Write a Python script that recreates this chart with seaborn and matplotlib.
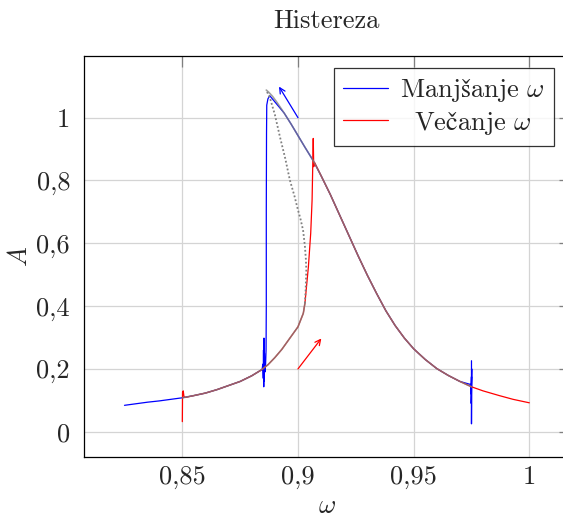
import numpy as np
import pandas as pd
import matplotlib
matplotlib.use("Agg")
import matplotlib.pyplot as plt
import seaborn as sns

# stable lower branch (omega, A)
lower_w = [0.825, 0.830, 0.835, 0.840, 0.845, 0.850, 0.855, 0.860, 0.865, 0.870,
           0.875, 0.880, 0.884, 0.887, 0.890, 0.893, 0.8965, 0.900, 0.9023, 0.903]
lower_a = [0.084, 0.089, 0.094, 0.098, 0.103, 0.108, 0.115, 0.123, 0.134, 0.147,
           0.160, 0.178, 0.196, 0.213, 0.236, 0.262, 0.298, 0.334, 0.377, 0.409]

# stable upper branch
upper_w = [0.8863, 0.8875, 0.889, 0.891, 0.894, 0.897, 0.900, 0.903, 0.9066, 0.910,
           0.914, 0.918, 0.922, 0.926, 0.930, 0.934, 0.938, 0.942, 0.946, 0.950,
           0.955, 0.960, 0.965, 0.970, 0.975]
upper_a = [1.088, 1.080, 1.068, 1.048, 1.015, 0.980, 0.943, 0.906, 0.863, 0.815,
           0.755, 0.690, 0.625, 0.560, 0.498, 0.440, 0.385, 0.338, 0.298, 0.264,
           0.230, 0.201, 0.179, 0.160, 0.143]

tail_w = [0.980, 0.987, 0.993, 1.000]
tail_a = [0.130, 0.115, 0.103, 0.092]

# unstable branch (dotted)
unst_w = [0.903, 0.9033, 0.9036, 0.9034, 0.9030, 0.9022, 0.9010, 0.9000, 0.8985,
          0.8965, 0.8945, 0.8922, 0.8900, 0.8880, 0.8863]
unst_a = [0.409, 0.450, 0.515, 0.550, 0.590, 0.642, 0.680, 0.706, 0.750,
          0.801, 0.870, 0.939, 1.010, 1.060, 1.088]

# transients of the sweeps
blue_start_w = [0.9750, 0.9750, 0.9751, 0.9749, 0.9750, 0.9749, 0.9748]
blue_start_a = [0.226, 0.025, 0.200, 0.090, 0.175, 0.120, 0.150]
blue_drop_w = [0.8878, 0.8870, 0.8865, 0.8864, 0.8863, 0.8863, 0.8862, 0.8860, 0.8857,
               0.8855, 0.8854, 0.8853, 0.8852, 0.8851, 0.8850, 0.8848, 0.8845]
blue_drop_a = [1.070, 1.060, 1.040, 0.950, 0.700, 0.400, 0.260, 0.215, 0.190,
               0.250, 0.160, 0.298, 0.143, 0.260, 0.170, 0.215, 0.198]
red_start_w = [0.8500, 0.8501, 0.8504, 0.8507, 0.8512]
red_start_a = [0.032, 0.125, 0.130, 0.112, 0.109]
red_jump_w = [0.9045, 0.9055, 0.9061, 0.9066, 0.9068, 0.9072]
red_jump_a = [0.525, 0.632, 0.738, 0.934, 0.844, 0.857]

# arrows (from, to)
arrow_down = [(0.9, 1.0), (0.8918, 1.099)]
arrow_up = [(0.9, 0.2), (0.9101, 0.297)]

xticks = [0.85, 0.9, 0.95, 1.0]
xtick_labels = ["0,85", "0,9", "0,95", "1"]
yticks = [0, 0.2, 0.4, 0.6, 0.8, 1.0]
ytick_labels = ["0", "0,2", "0,4", "0,6", "0,8", "1"]
labels = [r"$\mathrm{Manjšanje}$ $\omega$", r"$\mathrm{Večanje}$ $\omega$"]

# decreasing omega sweep
bw = blue_start_w + upper_w[::-1][1:-4] + blue_drop_w + [w for w in lower_w[::-1] if w < 0.8845]
ba = blue_start_a + upper_a[::-1][1:-4] + blue_drop_a + [a for w, a in zip(lower_w[::-1], lower_a[::-1]) if w < 0.8845]
blue = pd.DataFrame({"w": bw, "A": ba})

# increasing omega sweep
rw = red_start_w + [w for w in lower_w if w > 0.8512] + red_jump_w + [w for w in upper_w if w > 0.9072] + tail_w
ra = red_start_a + [a for w, a in zip(lower_w, lower_a) if w > 0.8512] + red_jump_a + [a for w, a in zip(upper_w, upper_a) if w > 0.9072] + tail_a
red = pd.DataFrame({"w": rw, "A": ra})

g_low = pd.DataFrame({"w": [w for w in lower_w if w >= 0.85], "A": [a for w, a in zip(lower_w, lower_a) if w >= 0.85]})
g_uns = pd.DataFrame({"w": unst_w, "A": unst_a})
g_up = pd.DataFrame({"w": upper_w, "A": upper_a})

sns.set_style("white")
plt.rcParams['font.family'] = ['cmr10', 'DejaVu Serif']
plt.rcParams['mathtext.fontset'] = 'cm'
plt.rcParams['axes.formatter.use_mathtext'] = True

fig = plt.figure(figsize=(5.63, 5.19), dpi=100)
ax = fig.add_axes([84/563, 62/519, 485.8/563, 401/519])

fs = 19
sns.lineplot(data=blue, x="w", y="A", sort=False, estimator=None, color="blue", lw=0.9,
             label=labels[0], ax=ax)
sns.lineplot(data=red, x="w", y="A", sort=False, estimator=None, color="red", lw=0.9,
             label=labels[1], ax=ax)
sns.lineplot(data=g_low, x="w", y="A", sort=False, estimator=None, color="gray", lw=1.2, alpha=0.75, ax=ax)
sns.lineplot(data=g_up, x="w", y="A", sort=False, estimator=None, color="gray", lw=1.2, alpha=0.75, ax=ax)
sns.lineplot(data=g_uns, x="w", y="A", sort=False, estimator=None, color="gray", lw=1.3,
             linestyle=(0, (1, 1.2)), ax=ax)

ax.annotate("", xy=arrow_down[1], xytext=arrow_down[0],
            arrowprops=dict(arrowstyle="->", color="blue", lw=0.9, shrinkA=0, shrinkB=0))
ax.annotate("", xy=arrow_up[1], xytext=arrow_up[0],
            arrowprops=dict(arrowstyle="->", color="red", lw=0.9, shrinkA=0, shrinkB=0))

ax.set_xlim(0.8075, 1.0175)
ax.set_ylim(-0.0806, 1.1965)
ax.set_xticks(xticks, xtick_labels)
ax.set_yticks(yticks, ytick_labels)
ax.grid(True, color="#d4d4d4", lw=0.9)
ax.tick_params(direction="in", length=8, width=0.9, color="#7f7f7f",
               top=True, right=True, labelsize=fs)
ax.tick_params(axis="x", pad=6)
ax.tick_params(axis="y", pad=10)
for s in ax.spines.values():
    s.set_color("black")
    s.set_linewidth(0.9)

ax.set_xlabel(r"$\omega$", fontsize=fs, labelpad=4)
ax.set_ylabel(r"$A$", fontsize=fs, labelpad=3)
ax.set_title("Histereza", fontsize=fs, pad=20)

leg = ax.legend(loc="upper right", bbox_to_anchor=(0.9675, 0.970), borderaxespad=0,
                fontsize=fs, frameon=True, fancybox=False, edgecolor="black",
                handlelength=1.7, handletextpad=0.45, labelspacing=0.2, borderpad=0.35)
leg.get_frame().set_linewidth(0.9)

# centre the shorter legend entry like the reference
fig.canvas.draw()
r = fig.canvas.get_renderer()
texts = leg.get_texts()
w0 = texts[0].get_window_extent(r).width
w1 = texts[1].get_window_extent(r).width
texts[1].set_x((w0 - w1) / 2)

fig.savefig("out.png", dpi=100)
